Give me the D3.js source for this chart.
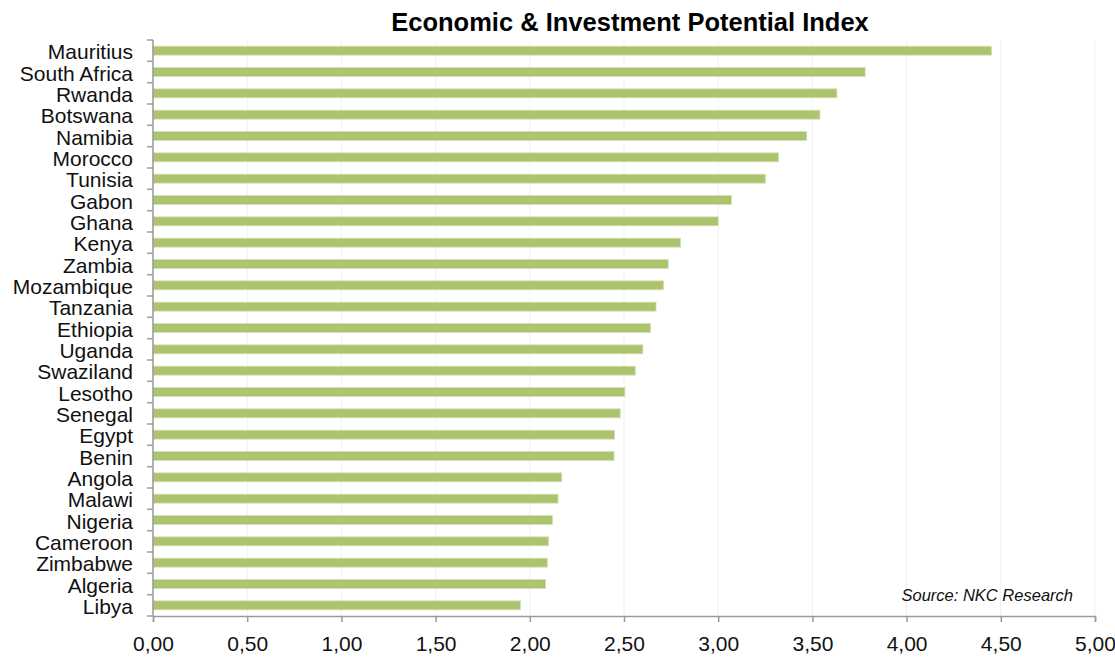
<!DOCTYPE html>
<html>
<head>
<meta charset="utf-8">
<script src="https://cdn.jsdelivr.net/npm/d3@7"></script>
<style>
  html, body { margin: 0; padding: 0; background: #fff; }
  svg { display: block; }
  text { font-family: "Liberation Sans", Arial, sans-serif; }
</style>
</head>
<body>
<svg id="chart" width="1115" height="657"></svg>
<script>
const countries = ["Mauritius","South Africa","Rwanda","Botswana","Namibia","Morocco","Tunisia","Gabon","Ghana","Kenya","Zambia","Mozambique","Tanzania","Ethiopia","Uganda","Swaziland","Lesotho","Senegal","Egypt","Benin","Angola","Malawi","Nigeria","Cameroon","Zimbabwe","Algeria","Libya"];
const scores = [4.45,3.78,3.63,3.54,3.47,3.32,3.25,3.07,3.00,2.80,2.735,2.71,2.67,2.64,2.60,2.56,2.505,2.48,2.45,2.447,2.17,2.15,2.12,2.10,2.093,2.084,1.95];
const xTicks = [0,0.5,1,1.5,2,2.5,3,3.5,4,4.5,5];
const titleText = "Economic & Investment Potential Index";
const sourceText = "Source: NKC Research";

const svg = d3.select("#chart");
const mLeft = 153, mRight = 1095, mTop = 40, mBottom = 616;

const x = d3.scaleLinear().domain([0, 5]).range([mLeft, mRight]);
const y = d3.scaleBand().domain(countries).range([mTop, mBottom]).paddingInner(0.58).paddingOuter(0.29);

// gridlines
svg.append("g").selectAll("line").data(xTicks.slice(1)).join("line")
  .attr("x1", d => x(d)).attr("x2", d => x(d))
  .attr("y1", mTop).attr("y2", mBottom)
  .attr("stroke", "#f0f0f0").attr("stroke-width", 1);

// bars
svg.append("g").selectAll("rect").data(countries).join("rect")
  .attr("x", x(0))
  .attr("y", d => y(d))
  .attr("width", (d, i) => x(scores[i]) - x(0))
  .attr("height", y.bandwidth())
  .attr("fill", "#adc46f")
  .attr("stroke", "#d3e0b0")
  .attr("stroke-width", 0.8);

// x axis
const xAxis = d3.axisBottom(x).tickValues(xTicks).tickSize(6).tickPadding(14)
  .tickFormat(d => d3.format(".2f")(d).replace(".", ","));
const gx = svg.append("g").attr("transform", `translate(0,${mBottom})`).call(xAxis);
gx.select(".domain").attr("stroke", "#9a9a9a").attr("stroke-width", 1.5);
gx.selectAll(".tick line").attr("stroke", "#9a9a9a").attr("stroke-width", 1.5);
gx.selectAll(".tick text").attr("font-size", 21).attr("fill", "#111")
  .attr("font-family", "'Liberation Sans', Arial, sans-serif");

// y axis labels
const yAxis = d3.axisLeft(y).tickSize(0).tickPadding(20);
const gy = svg.append("g").attr("transform", `translate(${mLeft},0)`).call(yAxis);
gy.select(".domain").remove();
gy.selectAll(".tick text").attr("font-size", 21).attr("fill", "#111").attr("dy", "0.42em")
  .attr("font-family", "'Liberation Sans', Arial, sans-serif");

// y axis line and boundary ticks
const boundaries = d3.range(countries.length + 1).map(i => mTop + i * (mBottom - mTop) / countries.length);
svg.append("line").attr("x1", mLeft).attr("x2", mLeft).attr("y1", mTop).attr("y2", mBottom)
  .attr("stroke", "#9a9a9a").attr("stroke-width", 1.5);
svg.append("g").selectAll("line").data(boundaries).join("line")
  .attr("x1", mLeft - 6).attr("x2", mLeft)
  .attr("y1", d => d).attr("y2", d => d)
  .attr("stroke", "#9a9a9a").attr("stroke-width", 1.5);

// title
svg.append("text").attr("x", 630).attr("y", 31).attr("text-anchor", "middle")
  .attr("font-size", 25.5).attr("font-weight", "bold").attr("fill", "#000").text(titleText);

// source
svg.append("text").attr("x", 1073).attr("y", 601).attr("text-anchor", "end")
  .attr("font-size", 16.5).attr("font-style", "italic").attr("fill", "#111").text(sourceText);
</script>
</body>
</html>
